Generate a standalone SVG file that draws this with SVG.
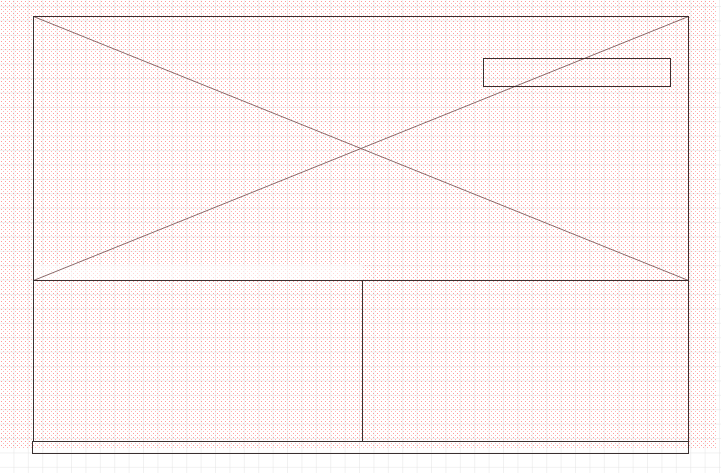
<svg xmlns="http://www.w3.org/2000/svg" width="721" height="473" viewBox="0 0 721 473">
  <defs>
    <pattern id="grid" x="0" y="7" width="14.4" height="14.4" patternUnits="userSpaceOnUse">
      <path d="M14.4 0V14.4M0 14.4H14.4" fill="none" stroke="#e4e4e4" stroke-width="1"/>
    </pattern>
    <pattern id="dots" x="0" y="0" width="4" height="4" patternUnits="userSpaceOnUse">
      <rect x="1" y="1" width="1" height="1" fill="#ff7a7a"/>
      <rect x="3" y="3" width="1" height="1" fill="#ff9c9c"/>
    </pattern>
    <style>
      .frame { fill: none; stroke: #3b3030; stroke-width: 1; }
      .diag { fill: none; stroke: #8a6a6a; stroke-width: 1; }
    </style>
  </defs>
  <rect width="721" height="473" fill="#ffffff"/>
  <rect width="721" height="473" fill="url(#grid)"/>
  <rect x="0" y="0" width="716" height="449" fill="url(#dots)" opacity="0.75"/>
  <rect x="34" y="265" width="328" height="15" fill="#ffffff" opacity="0.6"/>

  <g id="connectors">
    <line class="diag" x1="33.5" y1="16.5" x2="688.5" y2="280.5"/>
    <line class="diag" x1="33.5" y1="280.5" x2="688.5" y2="16.5"/>
  </g>

  <g id="image-area">
    <rect class="frame" x="33.5" y="16.5" width="655" height="264"/>
  </g>
  <g id="caption-box">
    <rect class="frame" x="483.5" y="58.5" width="187" height="28"/>
  </g>
  <g id="left-panel">
    <rect class="frame" x="33.5" y="280.5" width="329" height="161"/>
  </g>
  <g id="right-panel">
    <rect class="frame" x="362.5" y="280.5" width="326" height="161"/>
  </g>
  <g id="footer">
    <rect class="frame" x="32.5" y="441.5" width="656" height="12"/>
  </g>
</svg>
